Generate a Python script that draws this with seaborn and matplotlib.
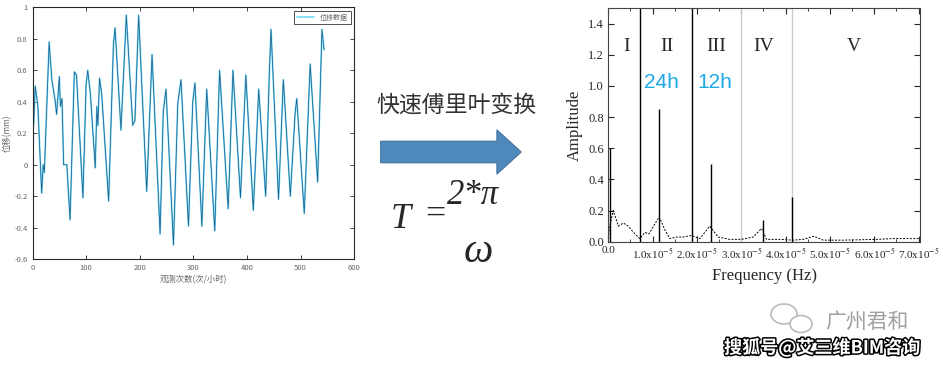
import pandas as pd
import seaborn as sns
import matplotlib.pyplot as plt
from matplotlib.patches import FancyArrow, Ellipse
import matplotlib.patheffects as pe

# turning points of the displacement record (observation no., displacement mm)
obs_no = [2, 5, 10, 17, 20, 22, 31, 36, 42, 45, 50, 52, 55, 58, 64, 70, 78, 82, 94,
          100, 103, 108, 117, 120, 122, 125, 129, 142, 151, 154, 165, 175, 187, 191,
          198, 213, 223, 238, 244, 249, 263, 271, 277, 291, 299, 303, 316, 325, 340,
          349, 365, 374, 388, 398, 412, 422, 435, 442, 445, 459, 468, 481, 490, 493,
          507, 518, 532, 540, 544]
disp_mm = [0.25, 0.50, 0.37, -0.18, 0.0, -0.05, 0.78, 0.54, 0.41, 0.32, 0.56, 0.37,
           0.42, 0.0, 0.0, -0.35, 0.59, 0.57, -0.21, 0.51, 0.60, 0.45, -0.02, 0.37,
           0.25, 0.55, 0.45, -0.23, 0.77, 0.87, 0.22, 0.95, 0.25, 0.28, 0.95, -0.17,
           0.70, -0.44, 0.34, 0.48, -0.51, 0.39, 0.54, -0.39, 0.40, 0.52, -0.39, 0.48,
           -0.42, 0.60, -0.28, 0.60, -0.21, 0.57, -0.29, 0.48, -0.20, 0.60, 0.86,
           -0.22, 0.54, -0.20, 0.33, 0.42, -0.31, 0.64, -0.11, 0.86, 0.73]

# amplitude spectrum (frequency in 1e-5 Hz)
freq = [0.0, 0.02, 0.11, 0.23, 0.34, 0.45, 0.60, 0.71, 0.83, 0.92, 1.02, 1.15, 1.28,
        1.39, 1.54, 1.69, 1.88, 2.07, 2.29, 2.48, 2.74, 3.0, 3.27, 3.46, 3.57, 3.87,
        4.17, 4.4, 4.64, 4.85, 5.3, 6.05, 6.43, 7.0]
amp = [0.0, 0.075, 0.2, 0.10, 0.12, 0.10, 0.05, 0.02, 0.06, 0.05, 0.10, 0.16, 0.075,
       0.02, 0.03, 0.03, 0.04, 0.02, 0.10, 0.03, 0.015, 0.015, 0.03, 0.085, 0.015,
       0.015, 0.01, 0.015, 0.035, 0.01, 0.01, 0.015, 0.02, 0.02]
peak_freq = [0.05, 1.15, 2.31, 3.5, 4.15]
peak_amp = [0.6, 0.85, 0.5, 0.14, 0.29]
divider_freq = [0.714, 1.88, 2.99, 4.15]
divider_color = ['black', 'black', '#cccccc', '#cccccc']
band_labels = ['I', 'II', 'III', 'IV', 'V']
band_pos = [0.41, 1.32, 2.43, 3.51, 5.53]
period_labels = ['24h', '12h']
period_pos = [1.2, 2.4]

sns.set_style('ticks')
plt.rcParams['font.family'] = ['Noto Sans CJK SC', 'DejaVu Sans']
plt.rcParams['mathtext.fontset'] = 'stix'
serif = 'Liberation Serif'

fig = plt.figure(figsize=(9.43, 3.66), dpi=100)

# ---- left: displacement series
ax1 = fig.add_axes([0.0345, 0.292, 0.341, 0.688])
df = pd.DataFrame({'obs': obs_no, 'disp': disp_mm})
sns.lineplot(data=df, x='obs', y='disp', ax=ax1, color='#7fdcf7', lw=1.3,
             label='位移数据')
sns.lineplot(data=df, x='obs', y='disp', ax=ax1, color='#1d5f8e', lw=0.55,
             legend=False)
ax1.set_xlim(0, 600)
ax1.set_ylim(-0.6, 1)
ax1.set_xticks(range(0, 601, 100))
ax1.set_yticks([-0.6, -0.4, -0.2, 0, 0.2, 0.4, 0.6, 0.8, 1])
ax1.set_yticklabels(['-0.6', '-0.4', '-0.2', '0', '0.2', '0.4', '0.6', '0.8', '1'])
ax1.tick_params(direction='in', top=True, right=True, labelsize=5.5,
                labelcolor='#666666', length=3, width=0.6)
ax1.set_xlabel('观测次数(次/小时)', fontsize=6, color='#666666', labelpad=2)
ax1.set_ylabel('位移(mm)', fontsize=6, color='#666666', labelpad=2)
for s in ax1.spines.values():
    s.set_linewidth(0.8)
leg = ax1.legend(loc='upper right', fontsize=5, frameon=True, fancybox=False,
                 borderpad=0.4, handlelength=2.5)
leg.get_frame().set_edgecolor('black')
leg.get_frame().set_linewidth(0.6)
for t in leg.get_texts():
    t.set_color('#666666')

# ---- right: amplitude spectrum
ax2 = fig.add_axes([0.645, 0.3396, 0.3305, 0.6385])
for xf, c in zip(divider_freq, divider_color):
    ax2.axvline(xf, color=c, lw=1.0, zorder=1)
spec = pd.DataFrame({'f': freq, 'a': amp})
sns.lineplot(data=spec, x='f', y='a', ax=ax2, color='black', lw=0.7,
             linestyle=(0, (2, 1.5)), zorder=2)
ax2.vlines(peak_freq, 0, peak_amp, color='black', lw=1.0, zorder=3)
ax2.set_xlim(0, 7.03)
ax2.set_ylim(0, 1.5)
ax2.set_xticks(range(8))
ax2.set_xticklabels(['0.0'] + [f'{i}.0x10$^{{-5}}$' for i in range(1, 8)],
                    fontfamily=serif)
ax2.set_yticks([0, 0.2, 0.4, 0.6, 0.8, 1.0, 1.2, 1.4])
ax2.set_yticklabels([f'{v:.1f}' for v in [0, 0.2, 0.4, 0.6, 0.8, 1.0, 1.2, 1.4]],
                    fontfamily=serif)
ax2.set_xticks([i + 0.5 for i in range(7)], minor=True)
ax2.tick_params(direction='in', top=True, right=True, length=4, width=0.8, pad=3)
ax2.tick_params(axis='x', labelsize=8)
ax2.tick_params(axis='y', labelsize=9)
ax2.tick_params(which='minor', direction='in', top=True, right=True, length=2.5)
ax2.set_xlabel('Frequency (Hz)', fontfamily=serif, fontsize=12, labelpad=5)
ax2.set_ylabel('Amplitude', fontfamily=serif, fontsize=12, labelpad=4)
for s in ax2.spines.values():
    s.set_linewidth(0.8)
    s.set_color('#444444')
for lab, xp in zip(band_labels, band_pos):
    ax2.text(xp, 1.25, lab, ha='center', va='center', fontfamily=serif,
             fontsize=14)
for lab, xp in zip(period_labels, period_pos):
    ax2.text(xp, 1.02, lab, ha='center', va='center', fontfamily='Liberation Sans',
             fontsize=15, color='#1ea8e3')

# ---- middle annotation and watermark, in pixel coordinates
ov = fig.add_axes([0, 0, 1, 1], facecolor='none')
ov.set_xlim(0, 943)
ov.set_ylim(366, 0)
ov.axis('off')
ov.text(456, 105, '快速傅里叶变换', ha='center', va='center', fontsize=16.5,
        color='#333333')
ov.add_patch(FancyArrow(380.7, 152, 140.5, 0, width=21.6, head_width=44.3,
                        head_length=24.3, length_includes_head=True,
                        fc='#4f88ba', ec='#41739f', lw=0.8))
ov.text(401, 219, 'T', ha='center', va='center', fontfamily=serif,
        style='italic', fontsize=26)
ov.text(435, 215, '=', ha='center', va='center', fontfamily=serif, fontsize=26)
ov.text(473, 196, '2*π', ha='center', va='center', fontfamily=serif,
        style='italic', fontsize=25)
ov.text(478, 252, 'ω', ha='center', va='center', fontfamily=serif,
        style='italic', fontsize=30)

ov.add_patch(Ellipse((784, 314), 26, 20, fc='white', ec='#bbbbbb', lw=1.2))
ov.add_patch(Ellipse((801, 324), 22, 17, fc='white', ec='#bbbbbb', lw=1.2))
ov.text(867, 322, '广州君和', ha='center', va='center', fontsize=15,
        color='#a0a0a0')
ov.text(822, 348, '搜狐号@艾三维BIM咨询', ha='center', va='center', fontsize=13,
        color='white', fontweight='bold',
        path_effects=[pe.withStroke(linewidth=2.2, foreground='black')])

plt.savefig('out.png', dpi=100)
